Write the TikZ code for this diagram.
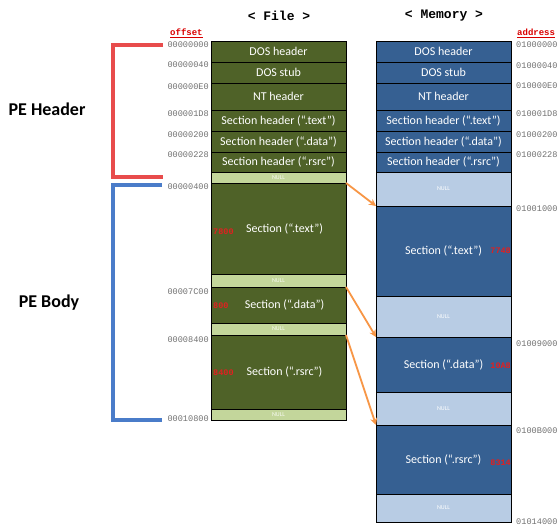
\documentclass[tikz,border=0pt]{standalone}
\usepackage{fontspec}
\setmainfont{Carlito}
\newfontfamily\monof{Liberation Mono}
\usetikzlibrary{arrows.meta}
\definecolor{dgreen}{HTML}{4F6228}
\definecolor{lgreen}{HTML}{C3D69B}
\definecolor{dblue}{HTML}{366092}
\definecolor{lblue}{HTML}{B8CCE4}
\definecolor{arrorange}{HTML}{F79646}
\definecolor{brred}{HTML}{E84C4C}
\definecolor{brblue}{HTML}{4A7CC9}
\definecolor{numred}{HTML}{E02020}
\definecolor{offgray}{HTML}{707070}
\tikzset{
  cell/.style={draw=black, line width=0.8pt, inner sep=0pt, outer sep=0pt,
    minimum width=135pt, anchor=north west, text=white, font=\fontsize{12}{13}\selectfont},
  fcell/.style={cell, fill=dgreen},
  fnull/.style={cell, fill=lgreen, text=white!90!lgreen, font=\fontsize{6}{7}\selectfont},
  mcell/.style={cell, fill=dblue},
  mnull/.style={cell, fill=lblue, text=white, font=\fontsize{6}{7}\selectfont},
  offs/.style={anchor=east, inner sep=0pt, text=offgray, font=\monof\fontsize{8.6}{9}\selectfont},
  addr/.style={anchor=west, inner sep=0pt, text=offgray, font=\monof\fontsize{8.6}{9}\selectfont},
  rnum/.style={inner sep=0pt, text=numred, font=\monof\bfseries\fontsize{8.5}{9}\selectfont},
  title/.style={inner sep=0pt, font=\monof\bfseries\fontsize{13}{14}\selectfont},
  head/.style={inner sep=0pt, text=red!85!black, font=\monof\bfseries\fontsize{9}{10}\selectfont},
  maparrow/.style={draw=arrorange, line width=1.8pt, -{Stealth[length=7pt,width=7pt]}},
  redbr/.style={draw=brred, line width=3.5pt},
  bluebr/.style={draw=brblue, line width=3.5pt},
  pelabel/.style={inner sep=0pt, font=\bfseries\fontsize{18}{19}\selectfont}
}
\begin{document}
\begin{tikzpicture}[x=1pt,y=-1pt]
\useasboundingbox (0,0) rectangle (560,529);
% titles
\node[title] (tfile) at (279,16) {< File >};
\node[title] (tmem) at (444,16) {< Memory >};
\node[head, anchor=west] (hoff) at (170,33) {\underline{offset}};
\node[head, anchor=west] (haddr) at (517,33) {\underline{address}};
% file column
\node[fcell, minimum height=21pt] (f1) at (211,41) {DOS header};
\node[fcell, minimum height=21pt] (f2) at (211,62) {DOS stub};
\node[fcell, minimum height=27pt] (f3) at (211,83) {NT header};
\node[fcell, minimum height=21pt] (f4) at (211,110) {Section header (“.text”)};
\node[fcell, minimum height=21pt] (f5) at (211,131) {Section header (“.data”)};
\node[fcell, minimum height=20pt] (f6) at (211,152) {Section header (“.rsrc”)};
\node[fnull, minimum height=11pt] (f7) at (211,172) {NULL};
\node[fcell, minimum height=91pt] (ftext) at (211,183) {\hspace{12pt}Section (“.text”)};
\node[fnull, minimum height=13pt] (f9) at (211,274) {NULL};
\node[fcell, minimum height=36pt] (fdata) at (211,287) {\hspace{12pt}Section (“.data”)};
\node[fnull, minimum height=12pt] (f11) at (211,323) {NULL};
\node[fcell, minimum height=74pt] (frsrc) at (211,335) {\hspace{12pt}Section (“.rsrc”)};
\node[fnull, minimum height=11pt] (f13) at (211,409) {NULL};
% memory column
\node[mcell, minimum height=21pt] (m1) at (376,41) {DOS header};
\node[mcell, minimum height=21pt] (m2) at (376,62) {DOS stub};
\node[mcell, minimum height=27pt] (m3) at (376,83) {NT header};
\node[mcell, minimum height=21pt] (m4) at (376,110) {Section header (“.text”)};
\node[mcell, minimum height=21pt] (m5) at (376,131) {Section header (“.data”)};
\node[mcell, minimum height=20pt] (m6) at (376,152) {Section header (“.rsrc”)};
\node[mnull, minimum height=34pt] (m7) at (376,172) {NULL};
\node[mcell, minimum height=90pt] (mtext) at (376,206) {Section (“.text”)\hspace{14pt}};
\node[mnull, minimum height=41pt] (m9) at (376,296) {NULL};
\node[mcell, minimum height=55pt] (mdata) at (376,337) {Section (“.data”)\hspace{14pt}};
\node[mnull, minimum height=33pt] (m11) at (376,392) {NULL};
\node[mcell, minimum height=69pt] (mrsrc) at (376,425) {Section (“.rsrc”)\hspace{14pt}};
\node[mnull, minimum height=28pt] (m13) at (376,494) {NULL};
% sizes
\node[rnum, anchor=west] (n1) at (213,232) {7800};
\node[rnum, anchor=west] (n2) at (213,306) {800};
\node[rnum, anchor=west] (n3) at (213,373) {8400};
\node[rnum, anchor=east] (n4) at (511,251) {7748};
\node[rnum, anchor=east] (n5) at (511,366) {10A8};
\node[rnum, anchor=east] (n6) at (511,463) {8314};
% offsets
\node[offs] (o1) at (209,45) {00000000};
\node[offs] (o2) at (209,65) {00000040};
\node[offs] (o3) at (209,87) {000000E0};
\node[offs] (o4) at (209,114) {000001D8};
\node[offs] (o5) at (209,135) {00000200};
\node[offs] (o6) at (209,155) {00000228};
\node[offs] (o7) at (209,187) {00000400};
\node[offs] (o8) at (209,292) {00007C00};
\node[offs] (o9) at (209,340) {00008400};
\node[offs] (o10) at (209,419) {00010800};
% addresses
\node[addr] (a1) at (516,45) {01000000};
\node[addr] (a2) at (516,66) {01000040};
\node[addr] (a3) at (516,86) {010000E0};
\node[addr] (a4) at (516,114) {010001D8};
\node[addr] (a5) at (516,135) {01000200};
\node[addr] (a6) at (516,155) {01000228};
\node[addr] (a7) at (516,209) {01001000};
\node[addr] (a8) at (516,344) {01009000};
\node[addr] (a9) at (516,431) {0100B000};
\node[addr] (a10) at (516,522) {01014000};
% mapping arrows
\draw[maparrow] (ftext.north east) -- (mtext.north west);
\draw[maparrow] (fdata.north east) -- (mdata.north west);
\draw[maparrow] (frsrc.north east) -- (mrsrc.north west);
% brackets
\coordinate (rt) at (163,45);
\coordinate (rb) at (163,177);
\coordinate (bt) at (162,185);
\coordinate (bb) at (162,420);
\draw[redbr] (rt) -- ++(-50,0) |- (rb);
\draw[bluebr] (bt) -- ++(-49,0) |- (bb);
\node[pelabel] (peh) at (47,109) {PE Header};
\node[pelabel] (peb) at (49,303) {PE Body};
\end{tikzpicture}
\end{document}
